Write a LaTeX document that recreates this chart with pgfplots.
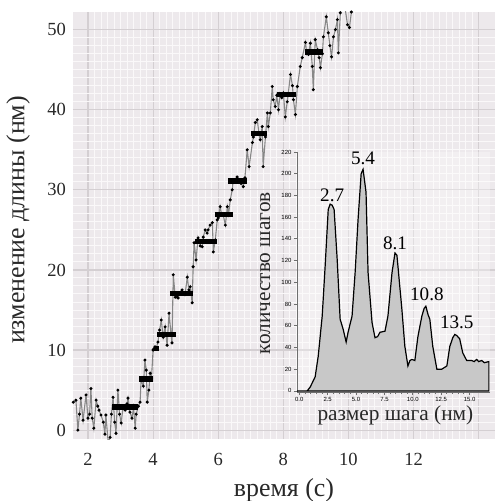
\documentclass[border=0pt]{standalone}
\usepackage{pgfplots}
\pgfplotsset{compat=1.18}
\usepackage{fontspec}
\setmainfont{Liberation Serif}
\newfontfamily\insetfont{Liberation Sans}
\definecolor{bgpink}{RGB}{237,233,236}
\definecolor{gridmaj}{RGB}{212,207,210}
\definecolor{tracegray}{RGB}{135,135,135}
\definecolor{histfill}{RGB}{200,200,200}
\definecolor{insetaxis}{RGB}{110,110,110}
\definecolor{labelgray}{RGB}{40,40,40}

\begin{document}
\begin{tikzpicture}
\useasboundingbox (-36.5bp,-31bp) rectangle (211bp,219.5bp);
% main trace
\begin{axis}[
    at={(0,0)}, anchor=south west,
    scale only axis,
    width=211bp, height=213.5bp,
    xmin=1.54, xmax=14.5,
    ymin=-1.1, ymax=52.2,
    xtick={2,4,...,14},
    xticklabels={2,4,6,8,10,12,{}},
    ytick={0,10,...,50},
    minor x tick num=9,
    minor y tick num=9,
    grid=both,
    major grid style={draw=gridmaj, line width=0.6bp},
    minor grid style={draw=white!70!bgpink, line width=0.5bp},
    axis background/.style={fill=bgpink},
    axis line style={draw=none},
    tick style={draw=none},
    /pgf/number format/assume math mode=true,
    ticklabel style={font=\fontsize{9.3}{10}\selectfont, text=labelgray},
    xticklabel style={yshift=-3.5bp},
    xlabel={время (с)},
    ylabel={изменение длины (нм)},
    label style={font=\fontsize{13}{14}\selectfont, text=labelgray},
    xlabel style={at={(axis description cs:0.5,-0.119)}, anchor=center},
    ylabel style={at={(axis description cs:-0.13,0.513)}, anchor=center},
]
\addplot[tracegray, line width=0.55bp, mark=*, mark size=0.45bp,
    mark options={black, solid}] coordinates {
(1.55,3.5)(1.63,3.75)(1.69,0)(1.74,2)(1.78,4)(1.85,1.25)(1.94,4.4)(2.0,1.5)
(2.05,2.0)(2.09,5.2)(2.13,1.5)(2.18,0.25)(2.25,3.75)(2.3,3.0)(2.34,2.5)(2.4,1.9)
(2.47,1.0)(2.52,-0.5)(2.55,1.9)(2.62,-1.5)(2.68,-0.9)(2.72,2)(2.77,4.1)(2.82,1)
(2.86,-0.4)(2.92,5)(2.97,2)(3.02,0.9)(3.08,3)(3.14,2.5)(3.2,3.3)(3.23,4)
(3.29,2.25)(3.35,1.5)(3.4,2.8)(3.45,0.25)(3.48,2.0)(3.55,3.0)(3.6,3.5)
(3.63,6.25)(3.7,5.5)(3.75,8.75)(3.79,7.5)(3.82,3.5)(3.87,5)(3.91,7.1)(3.95,6.5)
(4.0,10)(4.03,10.2)(4.06,10.4)(4.1,10.3)
(4.15,11)(4.2,12.5)(4.25,13.75)(4.31,11.6)(4.37,12.9)(4.43,10.6)(4.49,14.6)(4.55,12)
(4.58,10.9)(4.62,19.4)(4.68,16.6)(4.74,16.6)(4.77,16.5)(4.83,17.2)(4.89,17.5)(4.94,17)
(4.98,16.9)(5.05,19.1)(5.1,17.5)(5.14,17.9)(5.2,15.9)(5.23,20.4)(5.26,23.4)(5.32,21.25)
(5.38,24)(5.45,23)(5.51,22.9)(5.54,24.1)(5.6,25)(5.66,24.6)(5.69,25)(5.75,25.6)
(5.82,25.9)(5.85,22.25)(5.91,23.75)(5.97,26.25)(6.0,26.5)(6.06,27.9)(6.1,27)(6.15,26.9)
(6.22,25.6)(6.28,27.9)(6.32,27.0)(6.37,28.75)(6.43,30)(6.46,31.25)(6.52,31)(6.58,31.6)
(6.65,31.2)(6.7,30.8)(6.77,30.4)(6.82,31.5)(6.89,35)(6.95,32.9)(7.05,35.9)(7.08,36.6)
(7.14,38.4)(7.2,38.75)(7.25,37)(7.29,36.25)(7.35,37.9)(7.38,32.9)(7.45,36.6)(7.51,39.6)
(7.54,37.9)(7.6,39.6)(7.66,42.9)(7.69,41.25)(7.75,40.4)(7.8,41.8)(7.85,40)(7.9,42)
(7.95,41.5)(8.0,42.1)(8.06,39.1)(8.12,41)(8.22,44.4)(8.28,43)(8.31,41.25)(8.37,39.4)
(8.43,42.9)(8.52,45.4)(8.58,46.5)(8.68,48.4)(8.72,47)(8.77,46.9)(8.83,48.3)(8.89,45.4)
(8.92,42.5)(8.98,48.75)(9.05,47.5)(9.1,46.5)(9.14,45.25)(9.2,47)(9.23,49.1)(9.32,51.6)
(9.38,49.6)(9.43,48)(9.48,46.6)(9.54,49.1)(9.6,50)(9.66,51.25)(9.69,47.1)(9.75,52.1)
(9.82,53.5)(9.91,52.3)(9.97,50.6)(10.03,50.25)(10.09,52.2)(10.2,53.5)
};
% plateau levels
\addplot[black, line width=2.6bp] coordinates {(2.74,2.9)(3.54,2.9)};
\addplot[black, line width=2.6bp] coordinates {(3.58,6.4)(4.0,6.4)};
\addplot[black, line width=2.6bp] coordinates {(4.03,10.2)(4.18,10.2)};
\addplot[black, line width=2.6bp] coordinates {(4.12,11.9)(4.71,11.9)};
\addplot[black, line width=2.6bp] coordinates {(4.52,17.1)(5.23,17.1)};
\addplot[black, line width=2.6bp] coordinates {(5.29,23.6)(5.97,23.6)};
\addplot[black, line width=2.6bp] coordinates {(5.9,26.9)(6.46,26.9)};
\addplot[black, line width=2.6bp] coordinates {(6.31,31.1)(6.89,31.1)};
\addplot[black, line width=2.6bp] coordinates {(7.0,37.0)(7.5,37.0)};
\addplot[black, line width=2.6bp] coordinates {(7.82,41.9)(8.4,41.9)};
\addplot[black, line width=2.6bp] coordinates {(8.65,47.2)(9.23,47.2)};
\end{axis}

% inset: step size histogram
\begin{axis}[
    at={(112bp,23.5bp)}, anchor=south west,
    scale only axis,
    width=96.5bp, height=120bp,
    xmin=-0.2, xmax=16.8,
    ymin=-1, ymax=220,
    xtick={0,2.5,...,15},
    ytick={0,20,...,220},
    minor x tick num=4,
    axis x line=bottom, axis y line=left,
    axis line style={draw=insetaxis, line width=0.5bp, -},
    tick style={draw=insetaxis, line width=0.4bp},
    tick align=outside,
    major tick length=1.6bp, minor tick length=1.1bp,
    axis background/.style={fill=white, fill opacity=0.3},
    /pgf/number format/assume math mode=true,
    xticklabel style={/pgf/number format/.cd, fixed, fixed zerofill, precision=1},
    ticklabel style={font=\insetfont\fontsize{3}{3.5}\selectfont, inner sep=1bp},
    xlabel={размер шага (нм)},
    ylabel={количество шагов},
    label style={font=\fontsize{10.7}{12}\selectfont, text=labelgray},
    xlabel style={at={(axis description cs:0.51,-0.096)}, anchor=center},
    ylabel style={at={(axis description cs:-0.165,0.495)}, anchor=center},
    clip=false,
]
\addplot[black, line width=0.6bp, fill=histfill] coordinates {
(-0.2,0)(0.7,0)(0.97,3.7)(1.4,13)(1.67,32)(2.02,69)(2.28,115)(2.55,167)
(2.72,172)(2.9,171)(3.07,167)(3.34,121)(3.6,66)(3.86,57)(4.13,45)(4.3,54)
(4.65,69)(4.92,109)(5.18,158)(5.45,200)(5.53,202)(5.62,204)(5.88,183)(6.06,109)
(6.41,63)(6.67,49)(6.9,50)(7.11,54)(7.55,55)(7.81,69)(8.17,109)(8.43,127)
(8.6,125)(8.69,115)(9.04,75)(9.3,41)(9.57,23)(9.75,28)(9.92,29)(10.18,28)
(10.45,50)(10.8,69)(11.0,76)(11.15,78)(11.35,70)(11.5,66)(11.76,41)(12.12,20)
(12.55,20)(13.0,23)(13.26,41)(13.52,49)(13.7,52)(13.87,51)(14.13,48)(14.4,35)
(14.75,28)(15.19,28)(15.4,27)(15.63,29)(15.8,27)(16.07,28)(16.3,26)(16.7,27)
(16.7,0)
} \closedcycle;
\node[font=\fontsize{9.6}{10}\selectfont] at (axis cs:2.9,180) {2.7};
\node[font=\fontsize{9.6}{10}\selectfont] at (axis cs:5.62,214) {5.4};
\node[font=\fontsize{9.6}{10}\selectfont] at (axis cs:8.43,136) {8.1};
\node[font=\fontsize{9.6}{10}\selectfont] at (axis cs:11.24,89) {10.8};
\node[font=\fontsize{9.6}{10}\selectfont] at (axis cs:13.87,63) {13.5};
\end{axis}
\end{tikzpicture}
\end{document}
